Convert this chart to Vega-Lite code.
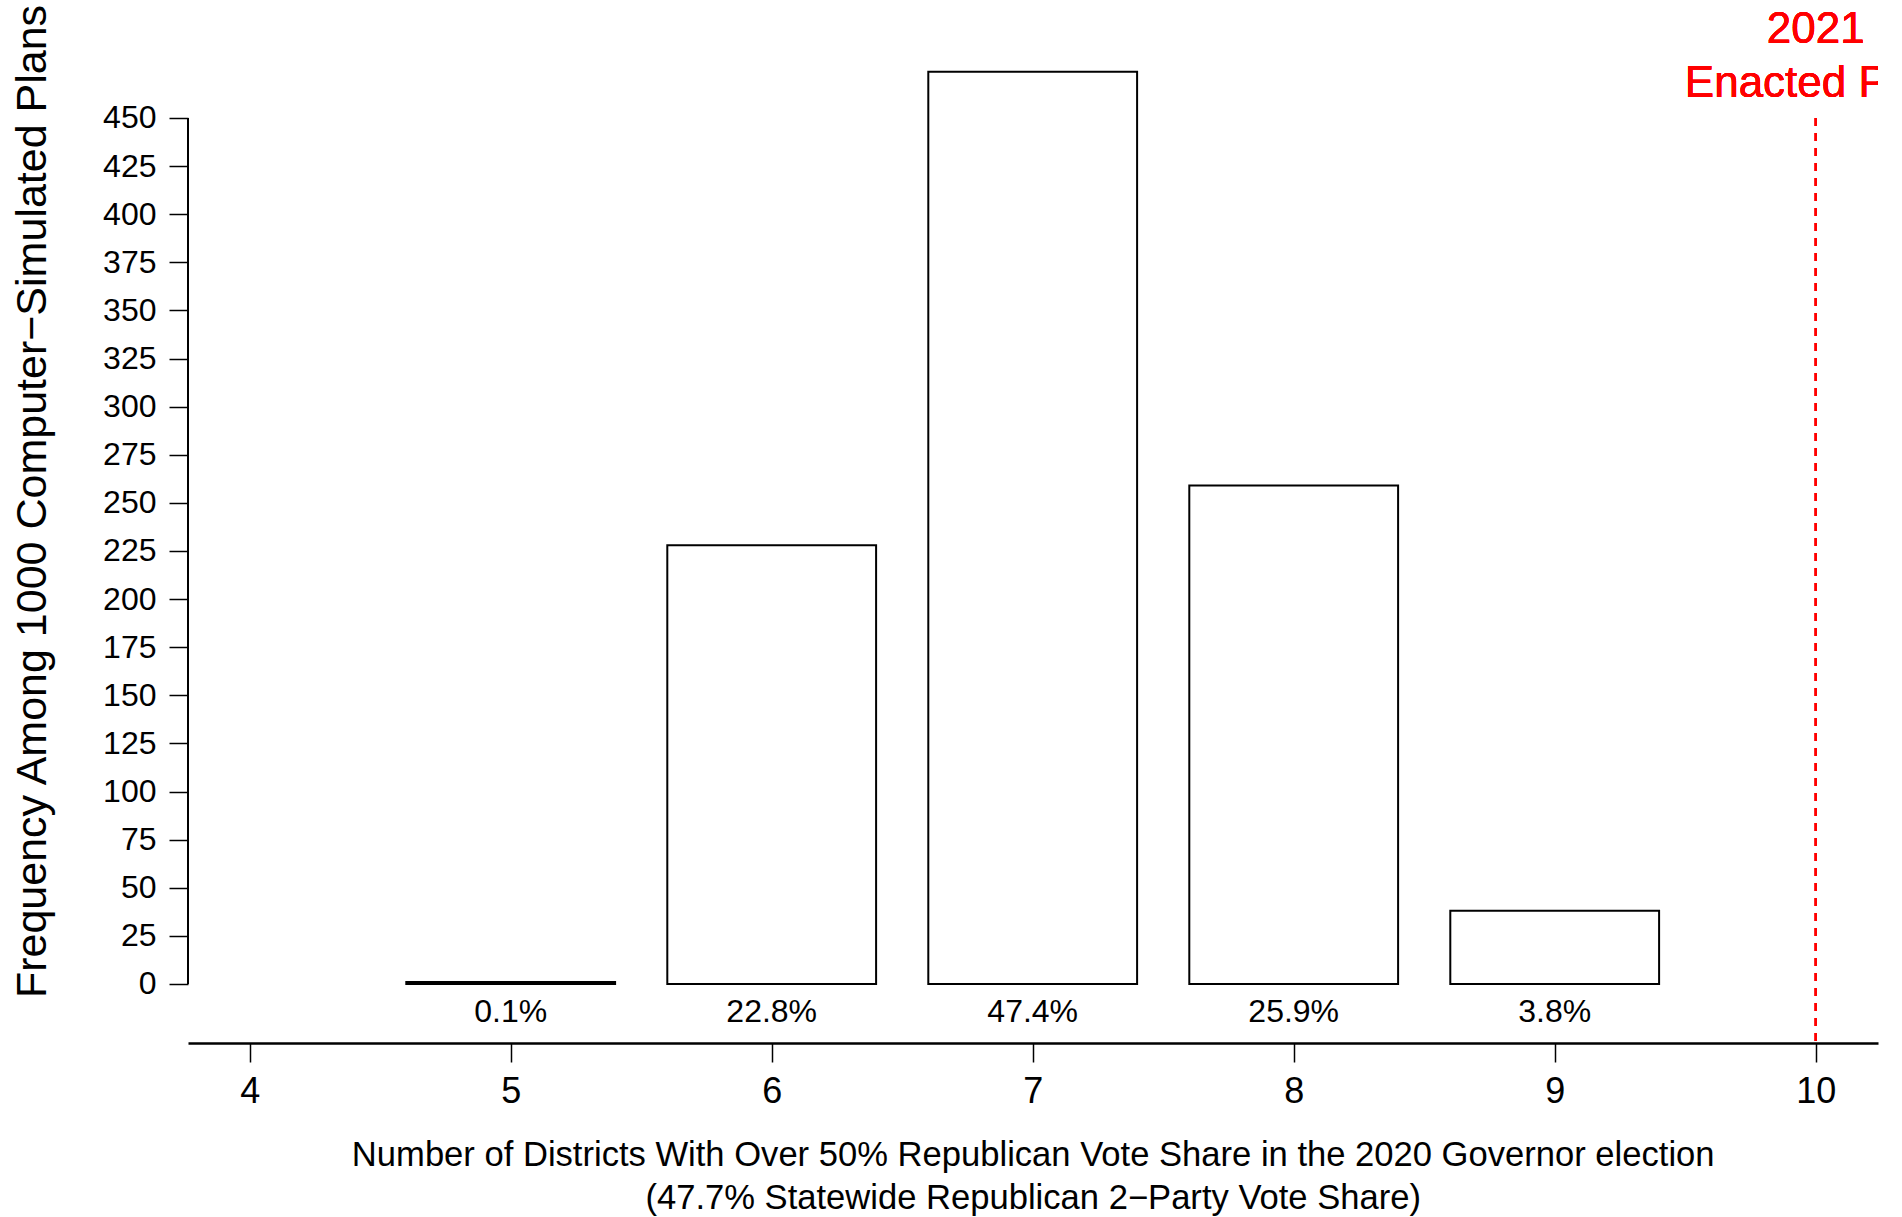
{
  "$schema": "https://vega.github.io/schema/vega-lite/v6.json",
  "width": 1690,
  "height": 1043,
  "autosize": {"type": "none"},
  "padding": {"left": 188, "top": 0, "right": 24, "bottom": 174},
  "background": "white",
  "config": {
    "view": {"stroke": null},
    "font": "Liberation Sans",
    "axis": {
      "labelFont": "Liberation Sans",
      "titleFont": "Liberation Sans",
      "labelColor": "black",
      "titleColor": "black",
      "tickColor": "black",
      "domainColor": "black",
      "grid": false,
      "titleFontWeight": "normal",
      "labelFlush": false,
      "labelOverlap": false
    }
  },
  "data": {
    "values": [
      {"districts": 5, "count": 1, "pct": "0.1%"},
      {"districts": 6, "count": 228, "pct": "22.8%"},
      {"districts": 7, "count": 474, "pct": "47.4%"},
      {"districts": 8, "count": 259, "pct": "25.9%"},
      {"districts": 9, "count": 38, "pct": "3.8%"}
    ]
  },
  "layer": [
    {
      "mark": {"type": "bar", "size": 208.8, "fill": "white", "stroke": "black", "strokeWidth": 2},
      "encoding": {
        "x": {
          "field": "districts",
          "type": "quantitative",
          "scale": {"domain": [3.7636, 10.2387], "nice": false, "zero": false, "padding": 0},
          "axis": {
            "values": [4, 5, 6, 7, 8, 9, 10],
            "format": "d",
            "domainWidth": 2.5,
            "tickSize": 19,
            "tickWidth": 1.5,
            "labelFontSize": 36,
            "labelBaseline": "alphabetic",
            "labelPadding": 40,
            "title": ["Number of Districts With Over 50% Republican Vote Share in the 2020 Governor election", "(47.7% Statewide Republican 2\u2212Party Vote Share)"],
            "titleFontSize": 34.6,
            "titleLineHeight": 43,
            "titleX": 844.7,
            "titleY": 122,
            "titleAlign": "center",
            "titleAnchor": null,
            "titleBaseline": "alphabetic"
          }
        },
        "y": {
          "field": "count",
          "type": "quantitative",
          "scale": {"domain": [-30.66, 511.3], "nice": false, "zero": false},
          "axis": {
            "values": [0, 25, 50, 75, 100, 125, 150, 175, 200, 225, 250, 275, 300, 325, 350, 375, 400, 425, 450],
            "domain": false,
            "tickSize": 19,
            "tickWidth": 1.5,
            "labelFontSize": 32,
            "labelPadding": 13,
            "title": "Frequency Among 1000 Computer\u2212Simulated Plans",
            "titleFontSize": 43,
            "titleAngle": 270,
            "titleX": -143,
            "titleY": 501,
            "titleAlign": "center",
            "titleAnchor": null,
            "titleBaseline": "alphabetic"
          }
        },
        "y2": {"datum": 0}
      }
    },
    {
      "mark": {"type": "text", "fontSize": 32, "baseline": "alphabetic", "align": "center", "dy": 38, "color": "black"},
      "encoding": {
        "x": {"field": "districts", "type": "quantitative"},
        "y": {"datum": 0},
        "text": {"field": "pct"}
      }
    },
    {
      "mark": {"type": "rule", "color": "black", "strokeWidth": 1.5},
      "encoding": {
        "x": {"datum": 3.7636},
        "y": {"datum": 0},
        "y2": {"datum": 450}
      }
    },
    {
      "mark": {"type": "rule", "color": "#FF0000", "strokeWidth": 2, "strokeDash": [8, 7]},
      "encoding": {
        "x": {"datum": 10},
        "y": {"datum": 450},
        "y2": {"datum": -30.66}
      }
    },
    {
      "mark": {"type": "text", "fontSize": 44, "fontWeight": "normal", "color": "#FF0000", "align": "center", "baseline": "alphabetic", "lineHeight": 54, "clip": true},
      "encoding": {
        "x": {"datum": 10},
        "y": {"datum": 489},
        "text": {"value": ["2021", "Enacted Plan"]}
      }
    }
  ]
}
